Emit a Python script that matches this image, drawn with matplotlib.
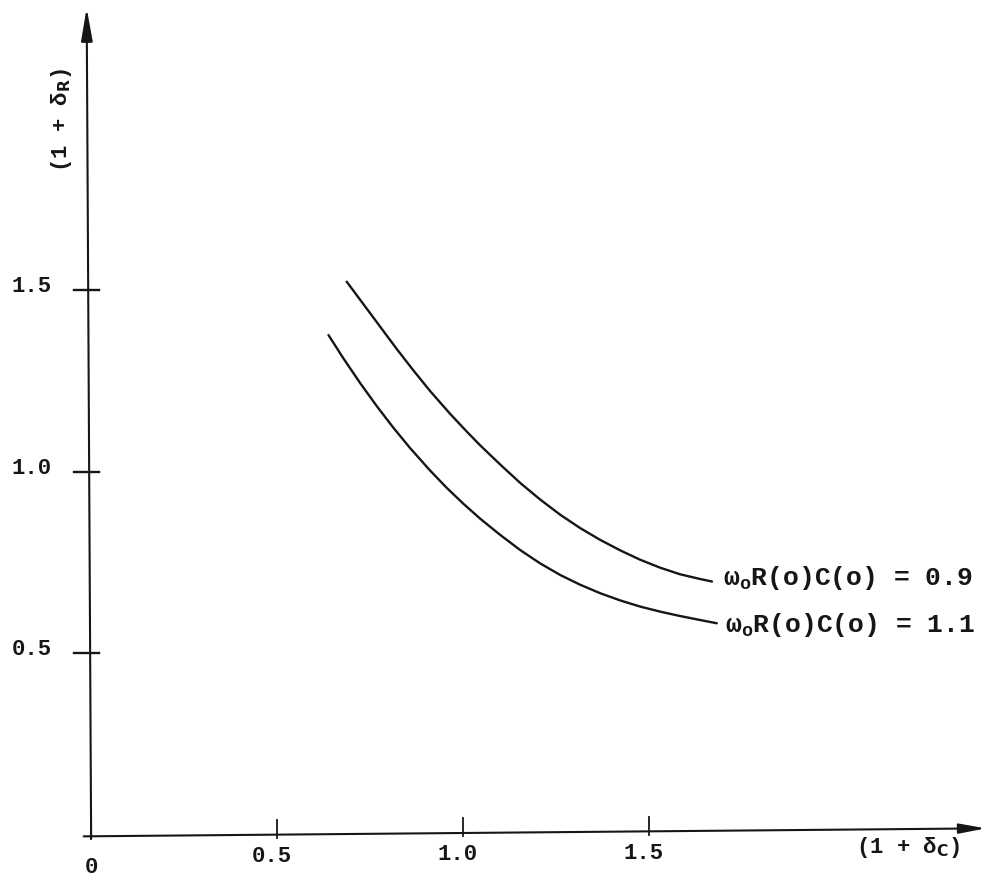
import matplotlib
matplotlib.use("Agg")
import matplotlib.pyplot as plt

# Curve data: (1 + delta_C) vs (1 + delta_R)
x_09 = [0.687, 0.732, 0.777, 0.822, 0.866, 0.911, 0.965, 1.008, 1.046, 1.099,
        1.153, 1.207, 1.261, 1.315, 1.368, 1.422, 1.476, 1.530, 1.583, 1.637, 1.669]
y_09 = [1.524, 1.462, 1.400, 1.338, 1.280, 1.223, 1.160, 1.113, 1.073, 1.021,
        0.970, 0.924, 0.882, 0.845, 0.813, 0.784, 0.758, 0.736, 0.718, 0.705, 0.698]

x_11 = [0.638, 0.678, 0.723, 0.768, 0.813, 0.858, 0.911, 0.956, 1.001, 1.046, 1.099,
        1.153, 1.207, 1.261, 1.315, 1.368, 1.422, 1.476, 1.530, 1.583, 1.637, 1.682]
y_11 = [1.377, 1.313, 1.245, 1.181, 1.121, 1.065, 1.004, 0.956, 0.912, 0.871, 0.827,
        0.785, 0.748, 0.716, 0.689, 0.666, 0.646, 0.629, 0.615, 0.603, 0.592, 0.583]

curve_labels = [r"$\omega_o$R(o)C(o) = 0.9", r"$\omega_o$R(o)C(o) = 1.1"]

x_ticks = [0.5, 1.0, 1.5]
x_tick_labels = ["0.5", "1.0", "1.5"]
y_ticks = [0.5, 1.0, 1.5]
y_tick_labels = ["0.5", "1.0", "1.5"]

plt.rcParams["font.family"] = ["Liberation Mono", "DejaVu Sans Mono"]
plt.rcParams["font.weight"] = "bold"
plt.rcParams["mathtext.fontset"] = "dejavusans"
plt.rcParams["mathtext.default"] = "regular"

fig = plt.figure(figsize=(9.88, 8.81), dpi=100)
ax = fig.add_axes([0, 0, 1, 1])
ax.set_xlim(-0.245, 2.411)
ax.set_ylim(-0.127, 2.300)
ax.axis("off")

ink = "#161616"

# Axes with arrowheads
ax.annotate("", xy=(2.405, 0.018), xytext=(-0.02, -0.004),
            arrowprops=dict(arrowstyle="-|>,head_length=1.6,head_width=0.3",
                            color=ink, lw=1.5, shrinkA=0, shrinkB=0))
ax.annotate("", xy=(-0.012, 2.278), xytext=(0.0, -0.01),
            arrowprops=dict(arrowstyle="-|>,head_length=2.0,head_width=0.35",
                            color=ink, lw=1.5, shrinkA=0, shrinkB=0))

# Tick marks
for xt in [0.0] + x_ticks:
    ax.plot([xt, xt], [-0.012 + 0.008 * xt, 0.038 + 0.008 * xt], color=ink, lw=1.3)
for yt in y_ticks:
    ax.plot([-0.045, 0.02], [yt, yt], color=ink, lw=1.7)

# Tick labels
ax.text(0.0, -0.09, "0", ha="center", va="center", fontsize=16, color=ink)
for xt, lab in zip(x_ticks, x_tick_labels):
    ax.text(xt - 0.015, -0.065 + 0.01 * xt, lab, ha="center", va="center",
            fontsize=16, color=ink)
for yt, lab in zip(y_ticks, y_tick_labels):
    ax.text(-0.105, yt + 0.01, lab, ha="right", va="center", fontsize=16, color=ink)

# Axis titles
ax.text(2.195, -0.035, r"(1 + $\delta_\mathrm{C}$)", ha="center", va="center",
        fontsize=16, color=ink)
ax.text(-0.08, 1.97, r"(1 + $\delta_\mathrm{R}$)", ha="center", va="center",
        fontsize=16, rotation=90, color=ink)

# Curves
ax.plot(x_09, y_09, color=ink, lw=1.7, solid_capstyle="round", solid_joinstyle="round")
ax.plot(x_11, y_11, color=ink, lw=1.7, solid_capstyle="round", solid_joinstyle="round")

# Curve labels
ax.text(x_09[-1] + 0.03, y_09[-1] + 0.01, curve_labels[0], ha="left", va="center",
        fontsize=19, color=ink)
ax.text(x_11[-1] + 0.022, y_11[-1] - 0.005, curve_labels[1], ha="left", va="center",
        fontsize=19, color=ink)

fig.savefig("out.png", dpi=100, facecolor="white")
